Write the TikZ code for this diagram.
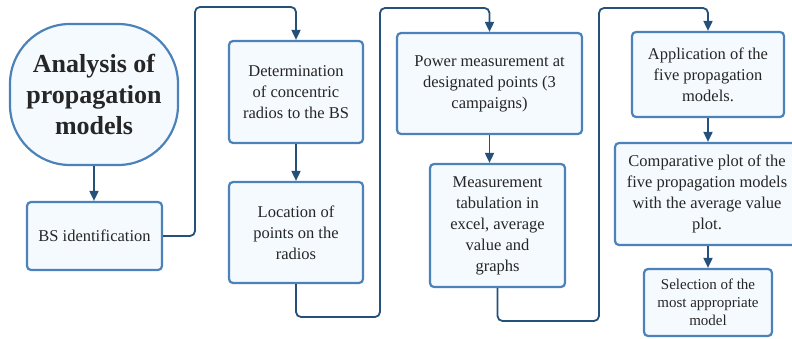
\documentclass[tikz,border=0pt]{standalone}
\usepackage{fontspec}
\setmainfont{Liberation Serif}
\usetikzlibrary{arrows.meta}
\definecolor{boxline}{HTML}{4C82BA}
\definecolor{boxfill}{HTML}{F5FAFF}
\definecolor{linkcol}{HTML}{25507A}
\definecolor{txt}{HTML}{262626}
\begin{document}
\begin{tikzpicture}[x=1pt,y=-1pt,
    stepbox/.style={draw=boxline,fill=boxfill,line width=2.2pt,rounded corners=4pt,
      align=center,text=txt,inner sep=0pt,font=\fontsize{16.5}{21}\selectfont},
    link/.style={draw=linkcol,line width=1.8pt,rounded corners=5pt,
      -{Triangle[width=9pt,length=10pt]}}]
    \useasboundingbox (0,0) rectangle (792,339);
    % boxes
    \node (start) at (94,94.5) [stepbox,rounded corners=60pt,minimum width=168pt,minimum height=141pt,
      font=\bfseries\fontsize{26}{31}\selectfont] {Analysis of\\propagation\\models};
    \node (bs) at (94.5,236) [stepbox,minimum width=135pt,minimum height=68pt] {BS identification};
    \node (det) at (296,92) [stepbox,minimum width=134pt,minimum height=102pt] {Determination\\of concentric\\radios to the BS};
    \node (loc) at (296,232.5) [stepbox,minimum width=134pt,minimum height=101pt] {Location of\\points on the\\radios};
    \node (pow) at (489.5,83.5) [stepbox,minimum width=185pt,minimum height=101pt] {Power measurement at\\designated points (3\\campaigns)};
    \node (tab) at (497.5,225.5) [stepbox,minimum width=135pt,minimum height=123pt] {Measurement\\tabulation in\\excel, average\\value and\\graphs};
    \node (app) at (708,74.5) [stepbox,minimum width=152pt,minimum height=85pt] {Application of the\\five propagation\\models.};
    \node (comp) at (707,194) [stepbox,minimum width=184pt,minimum height=102pt] {Comparative plot of the\\five propagation models\\with the average value\\plot.};
    \node (sel) at (708,302.5) [stepbox,minimum width=128pt,minimum height=67pt,
      font=\fontsize{15}{18}\selectfont] {Selection of the\\most appropriate\\model};
    % connectors
    \draw [link] (start.south) -- (start.south |- bs.north);
    \draw [link] (bs.east) -| (195,7) -| (det.north);
    \draw [link] (det) -- (loc);
    \draw [link] (loc.south) |- (380,317) -- (380,8) -| (pow.north);
    \draw [link] (pow.south) -- (pow.south |- tab.north);
    \draw [link] (tab.south) |- (599,321) -- (599,8) -| (app.north);
    \draw [link] (app.south) -- (app.south |- comp.north);
    \draw [link] (app.south |- comp.south) -- (app.south |- sel.north);
\end{tikzpicture}
\end{document}
